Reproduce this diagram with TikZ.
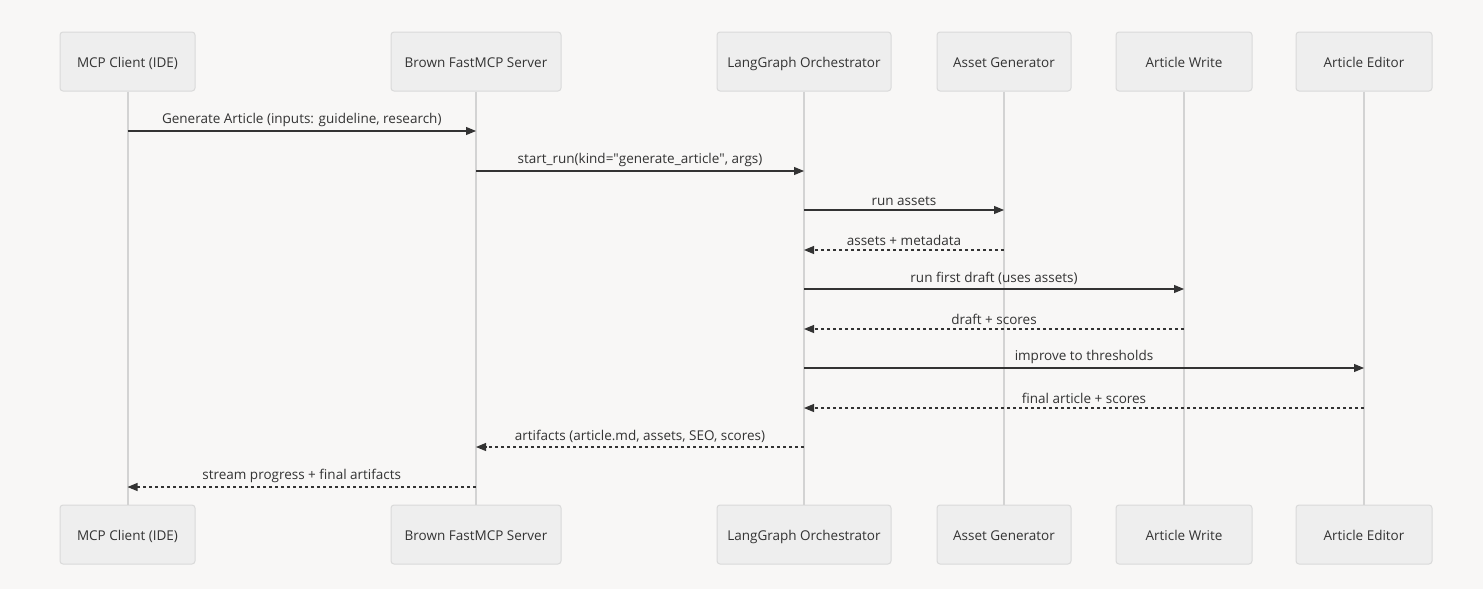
\documentclass[tikz,border=0pt]{standalone}
\usepackage{fontspec}
\setmainfont{Open Sans}
\usetikzlibrary{arrows.meta}
\definecolor{bg}{HTML}{F8F7F6}
\definecolor{boxfill}{HTML}{EEEEEE}
\definecolor{boxline}{HTML}{DADADA}
\definecolor{lifeline}{HTML}{D3D3D3}
\definecolor{ink}{HTML}{333333}
\tikzset{
  actor/.style={draw=boxline, fill=boxfill, rounded corners=3pt, line width=1pt,
    minimum height=59pt, inner sep=0pt, font=\fontsize{13.5}{16}\selectfont, text=ink,
    text height=12pt, text depth=0pt},
  life/.style={draw=lifeline, line width=2pt},
  msg/.style={draw=ink, line width=1.1pt, -{Triangle[length=10pt,width=8pt]}},
  reply/.style={msg, dash pattern=on 3pt off 3pt},
  lbl/.style={font=\fontsize{13.5}{16}\selectfont, text=ink, inner sep=0pt, above=4pt}
}
\begin{document}
\begin{tikzpicture}[x=1pt,y=-1pt]
\fill[bg] (0,0) rectangle (1483,589);
\useasboundingbox (0,0) rectangle (1483,589);
% top actors
\node[actor, minimum width=135pt] (a1) at (127.5,61.5) {MCP Client (IDE)};
\node[actor, minimum width=170pt] (a2) at (476,61.5) {Brown FastMCP Server};
\node[actor, minimum width=174pt] (a3) at (804,61.5) {LangGraph Orchestrator};
\node[actor, minimum width=134pt] (a4) at (1004,61.5) {Asset Generator};
\node[actor, minimum width=136pt] (a5) at (1184,61.5) {Article Write};
\node[actor, minimum width=136pt] (a6) at (1364,61.5) {Article Editor};
% bottom actors
\node[actor, minimum width=135pt] (b1) at (127.5,534.5) {MCP Client (IDE)};
\node[actor, minimum width=170pt] (b2) at (476,534.5) {Brown FastMCP Server};
\node[actor, minimum width=174pt] (b3) at (804,534.5) {LangGraph Orchestrator};
\node[actor, minimum width=134pt] (b4) at (1004,534.5) {Asset Generator};
\node[actor, minimum width=136pt] (b5) at (1184,534.5) {Article Write};
\node[actor, minimum width=136pt] (b6) at (1364,534.5) {Article Editor};
% lifelines
\foreach \i in {1,...,6} {\draw[life] (a\i.south) -- (b\i.north);}
% message endpoints
\foreach \n/\y in {1/131,2/171,3/210,4/250,5/289,6/329,7/368,8/408,9/447,10/487} {
  \foreach \i in {1,...,6} {\coordinate (p\i-\n) at (a\i.south |- 0,\y);}
}
\draw[msg] (p1-1) -- node[lbl] {Generate Article (inputs: guideline, research)} (p2-1);
\draw[msg] (p2-2) -- node[lbl] {start\_run(kind=\textquotedbl generate\_article\textquotedbl, args)} (p3-2);
\draw[msg] (p3-3) -- node[lbl] {run assets} (p4-3);
\draw[reply] (p4-4) -- node[lbl] {assets + metadata} (p3-4);
\draw[msg] (p3-5) -- node[lbl] {run first draft (uses assets)} (p5-5);
\draw[reply] (p5-6) -- node[lbl] {draft + scores} (p3-6);
\draw[msg] (p3-7) -- node[lbl] {improve to thresholds} (p6-7);
\draw[reply] (p6-8) -- node[lbl] {final article + scores} (p3-8);
\draw[reply] (p3-9) -- node[lbl] {artifacts (article.md, assets, SEO, scores)} (p2-9);
\draw[reply] (p2-10) -- node[lbl] {stream progress + final artifacts} (p1-10);
\end{tikzpicture}
\end{document}
